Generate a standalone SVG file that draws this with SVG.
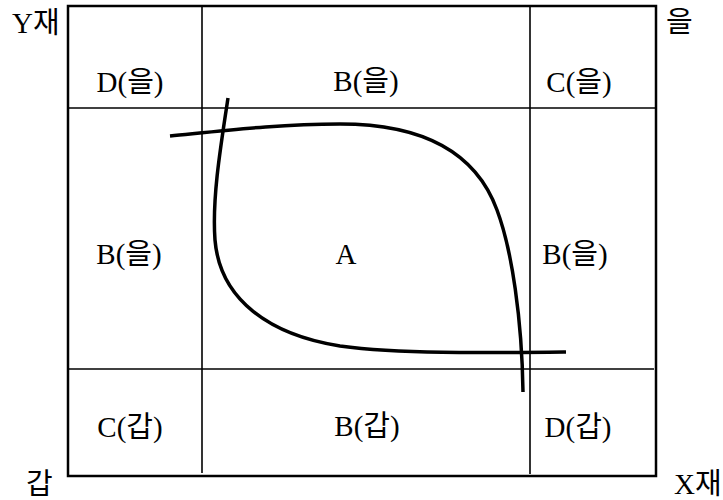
<svg xmlns="http://www.w3.org/2000/svg" width="723" height="500" viewBox="0 0 723 500">
<style>
text{font-family:"Liberation Serif","Noto Sans CJK KR",serif;font-size:29px;fill:#000}
.c{text-anchor:middle}
.box{fill:none;stroke:#000;stroke-width:2.5}
.grid{stroke:#000;stroke-width:1.6;fill:none}
.curve{fill:none;stroke:#000;stroke-width:3.5;stroke-linecap:butt}
</style>
<rect width="723" height="500" fill="#fff"/>
<g id="box">
<rect class="box" x="68" y="6" width="588" height="470"/>
<line class="grid" x1="68" y1="108" x2="656" y2="108"/>
<line class="grid" x1="68" y1="369" x2="654" y2="369"/>
<line class="grid" x1="202" y1="6" x2="202" y2="473"/>
<line class="grid" x1="530" y1="6" x2="530" y2="474"/>
</g>
<g id="curves">
<path id="curve-gap" class="curve" d="M228,98 C220,150 212,200 215,240 C220,300 270,335 340,346 C400,354 480,353 566,352"/>
<path id="curve-eul" class="curve" d="M170,136 C230,130 280,124 340,124 C420,124 475,150 497,210 C512,250 522,320 523,392"/>
</g>
<g id="axis-labels">
<text x="12" y="33">Y재</text>
<text x="666" y="32">을</text>
<text x="26" y="494">갑</text>
<text x="674" y="494">X재</text>
</g>
<g id="regions">
<text class="c" x="130" y="92">D(을)</text>
<text class="c" x="366" y="91">B(을)</text>
<text class="c" x="579" y="92">C(을)</text>
<text class="c" x="129" y="264">B(을)</text>
<text class="c" x="346" y="264">A</text>
<text class="c" x="575" y="264">B(을)</text>
<text class="c" x="130" y="437">C(갑)</text>
<text class="c" x="367" y="436">B(갑)</text>
<text class="c" x="578" y="437">D(갑)</text>
</g>
</svg>
